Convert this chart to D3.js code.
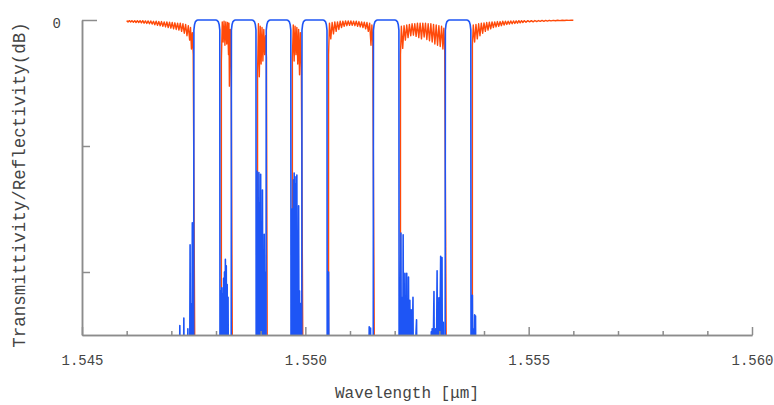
<!DOCTYPE html>
<html>
<head>
<meta charset="utf-8">
<script src="https://cdn.jsdelivr.net/npm/d3@7"></script>
<style>
  body { margin: 0; background: #fff; }
  svg text { font-family: "Liberation Mono", "DejaVu Sans Mono", monospace; fill: #444; }
  .axis .domain, .axis line { stroke: #8c8c8c; stroke-width: 1.5; }
</style>
</head>
<body>
<div id="chart"></div>
<script>
// x axis labels / y axis labels
const xTicks = [1.545, 1.550, 1.555, 1.560];
const yTicks = [0];
const yMinorTicks = [-20, -40];

// blue: flat-top passbands (left edge, right edge) in um
const passbands = [
  [1.54750, 1.54809],
  [1.54834, 1.54890],
  [1.54912, 1.54968],
  [1.54992, 1.55049],
  [1.55152, 1.55210],
  [1.55313, 1.55371]
];
// shape of a passband edge: offset into band (um), level (dB)
const edgeProfile = [[0, -60], [0.000005, -1.6], [0.00002, -0.7], [0.00004, -0.25], [0.00007, -0.05], [0.0001, 0]];

// blue: noise spikes at the bottom, between passbands
const blueNoise = [
  [1.54718,-60],[1.54719,-48.5],[1.54720,-60],[1.54727,-60],[1.54728,-47.3],[1.54729,-60],[1.54736,-60],[1.54737,-49],[1.54738,-60],
  [1.54741,-60],[1.54742,-35.7],[1.54743,-60],[1.54745,-45],[1.54746,-60],[1.54747,-32.2],[1.54748,-60],
  [1.54810,-60],[1.54811,-43],[1.54812,-60],[1.54813,-42.5],[1.54814,-60],[1.54815,-43.5],[1.54816,-60],[1.54817,-41],[1.54818,-60],
  [1.54819,-40],[1.54820,-60],[1.54821,-38],[1.54822,-60],[1.54823,-39],[1.54824,-60],[1.54825,-42],[1.54826,-60],[1.54827,-44],[1.54828,-60],
  [1.54891,-60],[1.54892,-24],[1.54893,-60],[1.54894,-36],[1.54895,-60],[1.54896,-24.2],[1.54897,-60],[1.54898,-29],[1.54899,-60],
  [1.54900,-24.5],[1.54901,-60],[1.54902,-35],[1.54903,-60],[1.54904,-27],[1.54905,-60],[1.54906,-37],[1.54907,-60],[1.54908,-34],[1.54909,-60],[1.54910,-40],[1.54911,-60],
  [1.54970,-60],[1.54971,-30],[1.54972,-60],[1.54973,-25.4],[1.54974,-60],[1.54975,-24.3],[1.54976,-60],[1.54977,-26],[1.54978,-60],
  [1.54979,-24.9],[1.54980,-60],[1.54981,-24.6],[1.54982,-60],[1.54983,-38],[1.54984,-60],[1.54985,-29.5],[1.54986,-60],[1.54987,-43],[1.54988,-60],[1.54989,-45],[1.54990,-60],
  [1.55051,-60],[1.55052,-40],[1.55053,-60],[1.55142,-60],[1.55143,-48.7],[1.55144,-60],[1.55146,-48.9],[1.55147,-60],
  [1.55212,-60],[1.55214,-33.8],[1.55215,-60],[1.55217,-44],[1.55218,-60],[1.55219,-34.1],[1.55220,-60],[1.55221,-45],[1.55222,-60],
  [1.55223,-40.2],[1.55224,-60],[1.55225,-46],[1.55226,-60],[1.55227,-40.2],[1.55228,-60],[1.55229,-45],[1.55230,-60],[1.55231,-40.8],[1.55232,-60],
  [1.55234,-44.5],[1.55235,-60],[1.55237,-46],[1.55238,-60],[1.55241,-44],[1.55242,-60],[1.55249,-47.6],[1.55250,-60],
  [1.55281,-60],[1.55282,-49.5],[1.55283,-60],[1.55284,-49],[1.55285,-60],[1.55288,-43.1],[1.55289,-60],[1.55292,-49],[1.55293,-60],
  [1.55295,-39.8],[1.55296,-60],[1.55299,-44.1],[1.55300,-60],[1.55303,-37.5],[1.55304,-60],[1.55306,-37.7],[1.55307,-60],[1.55309,-48],[1.55310,-60],
  [1.55373,-60],[1.55374,-43.7],[1.55375,-60],[1.55376,-49],[1.55377,-60],[1.55379,-46.8],[1.55380,-60],[1.55381,-47],[1.55382,-60]
];

// red: transmission ripple, region by region
const redLeft = [
  [1.54600,-0.1],[1.54603,-0.3],[1.54606,-0.1],[1.54609,-0.3],[1.54612,-0.1],[1.54615,-0.35],[1.54618,-0.1],[1.54621,-0.4],
  [1.54624,-0.1],[1.54627,-0.4],[1.54630,-0.1],[1.54633,-0.45],[1.54636,-0.1],[1.54639,-0.5],[1.54642,-0.15],[1.54645,-0.55],
  [1.54648,-0.15],[1.54651,-0.6],[1.54654,-0.15],[1.54657,-0.65],[1.54660,-0.2],[1.54663,-0.75],[1.54666,-0.2],[1.54669,-0.85],
  [1.54672,-0.25],[1.54675,-0.9],[1.54678,-0.25],[1.54681,-1.0],[1.54684,-0.3],[1.54687,-1.1],[1.54690,-0.3],[1.54693,-1.2],
  [1.54696,-0.35],[1.54699,-1.3],[1.54702,-0.4],[1.54705,-1.4],[1.54708,-0.45],[1.54711,-1.5],[1.54714,-0.5],[1.54717,-1.6],
  [1.54720,-0.5],[1.54723,-1.8],[1.54726,-0.6],[1.54729,-2.1],[1.54732,-0.7],[1.54735,-2.5],[1.54738,-0.9],[1.54741,-3.2],
  [1.54743,-1.2],[1.54745,-4.6],[1.54747,-2.0],[1.54749,-5.5],[1.54753,-60]
];
const redGap12 = [
  [1.54812,-60],[1.54812,-6.5],[1.54814,-0.3],[1.54816,-3.5],[1.54818,-0.2],[1.54820,-4.0],[1.54822,-0.3],[1.54824,-3.8],
  [1.54826,-0.4],[1.54828,-5.5],[1.54829,-0.5],[1.54830,-10.5],[1.54832,-1.5],[1.54834,-8.0],[1.54837,-60]
];
const redGap23 = [
  [1.54893,-60],[1.54893,-8.5],[1.54895,-0.6],[1.54897,-9.0],[1.54899,-1.0],[1.54901,-7.0],[1.54903,-1.2],[1.54905,-6.5],
  [1.54907,-1.5],[1.54909,-5.5],[1.54911,-2.5],[1.54913,-6.0],[1.54915,-60]
];
const redGap34 = [
  [1.54971,-60],[1.54971,-6.0],[1.54973,-0.8],[1.54975,-6.5],[1.54977,-1.0],[1.54979,-5.5],[1.54981,-1.2],[1.54983,-7.0],
  [1.54985,-1.5],[1.54987,-8.7],[1.54989,-2.0],[1.54991,-7.5],[1.54995,-60]
];
const redGap45 = [
  [1.55052,-60],[1.55052,-5.5],[1.55054,-0.5],[1.55057,-3.0],[1.55060,-0.4],[1.55063,-2.2],[1.55066,-0.3],[1.55069,-1.8],
  [1.55072,-0.3],[1.55075,-1.5],[1.55078,-0.2],[1.55081,-1.2],[1.55084,-0.2],[1.55087,-1.0],[1.55090,-0.15],[1.55093,-0.9],
  [1.55096,-0.15],[1.55099,-0.85],[1.55102,-0.15],[1.55105,-0.85],[1.55108,-0.2],[1.55111,-0.9],[1.55114,-0.2],[1.55117,-1.0],
  [1.55120,-0.25],[1.55123,-1.1],[1.55126,-0.3],[1.55129,-1.2],[1.55132,-0.35],[1.55135,-1.4],[1.55138,-0.4],[1.55141,-1.8],
  [1.55144,-0.5],[1.55147,-4.0],[1.55149,-0.8],[1.55151,-3.5],[1.55155,-60]
];
const redGap56 = [
  [1.55213,-60],[1.55213,-5.5],[1.55215,-1.0],[1.55218,-4.5],[1.55221,-0.9],[1.55224,-3.2],[1.55227,-0.8],[1.55230,-2.8],
  [1.55233,-0.7],[1.55236,-2.5],[1.55239,-0.6],[1.55242,-2.4],[1.55245,-0.6],[1.55248,-2.6],[1.55251,-0.5],[1.55254,-2.8],
  [1.55257,-0.5],[1.55260,-3.0],[1.55263,-0.5],[1.55266,-2.7],[1.55269,-0.5],[1.55272,-3.1],[1.55275,-0.6],[1.55278,-3.3],
  [1.55281,-0.6],[1.55284,-3.5],[1.55287,-0.7],[1.55290,-3.8],[1.55293,-0.8],[1.55296,-4.0],[1.55299,-0.9],[1.55302,-4.2],
  [1.55305,-1.0],[1.55308,-4.6],[1.55310,-1.3],[1.55312,-4.3],[1.55316,-60]
];
const redRight = [
  [1.55374,-60],[1.55374,-4.0],[1.55376,-0.8],[1.55379,-3.5],[1.55382,-0.7],[1.55385,-3.0],[1.55388,-0.6],[1.55391,-2.5],
  [1.55394,-0.5],[1.55397,-2.1],[1.55400,-0.45],[1.55403,-1.8],[1.55406,-0.4],[1.55409,-1.6],[1.55412,-0.35],[1.55415,-1.4],
  [1.55418,-0.3],[1.55421,-1.2],[1.55424,-0.3],[1.55427,-1.1],[1.55430,-0.25],[1.55433,-1.0],[1.55436,-0.25],[1.55439,-0.9],
  [1.55442,-0.2],[1.55445,-0.8],[1.55448,-0.2],[1.55451,-0.7],[1.55454,-0.2],[1.55457,-0.65],[1.55460,-0.15],[1.55463,-0.6],
  [1.55466,-0.15],[1.55469,-0.55],[1.55472,-0.15],[1.55475,-0.5],[1.55478,-0.1],[1.55481,-0.45],[1.55484,-0.1],[1.55487,-0.4],
  [1.55490,-0.1],[1.55494,-0.35],[1.55498,-0.1],[1.55502,-0.3],[1.55506,-0.1],[1.55510,-0.3],[1.55514,-0.08],[1.55518,-0.25],
  [1.55522,-0.08],[1.55526,-0.22],[1.55530,-0.06],[1.55534,-0.2],[1.55538,-0.06],[1.55542,-0.18],[1.55546,-0.05],[1.55550,-0.15],
  [1.55555,-0.05],[1.55560,-0.12],[1.55565,-0.04],[1.55570,-0.1],[1.55575,-0.04],[1.55580,-0.08],[1.55585,-0.03],[1.55590,-0.06],
  [1.55595,-0.02],[1.55600,-0.03]
];

const width = 774, height = 405;
const margin = {top: 20, right: 22, bottom: 70, left: 82};

const svg = d3.select("#chart").append("svg")
  .attr("width", width)
  .attr("height", height);

const x = d3.scaleLinear()
  .domain([1.545, 1.560])
  .range([margin.left, width - margin.right]);

const y = d3.scaleLinear()
  .domain([-50, 0])
  .range([height - margin.bottom, margin.top]);

svg.append("defs").append("clipPath").attr("id", "plot")
  .append("rect")
    .attr("x", margin.left)
    .attr("y", margin.top - 10)
    .attr("width", width - margin.left - margin.right)
    .attr("height", height - margin.bottom - margin.top + 10);

const lineGen = d3.line().x(d => x(d[0])).y(d => y(d[1]));

// red trace
const red = [].concat(redLeft, redGap12, redGap23, redGap34, redGap45, redGap56, redRight);
svg.append("path")
  .datum(red)
  .attr("clip-path", "url(#plot)")
  .attr("fill", "none")
  .attr("stroke", "#ff4a0a")
  .attr("stroke-width", 1.4)
  .attr("stroke-linejoin", "round")
  .attr("d", lineGen);

// blue trace: passbands + bottom noise
let blue = blueNoise.slice();
passbands.forEach(([l, r]) => {
  edgeProfile.forEach(([dx, v]) => blue.push([l + dx, v]));
  edgeProfile.forEach(([dx, v]) => blue.push([r - dx, v]));
});
blue.sort((a, b) => a[0] - b[0]);

svg.append("path")
  .datum(blue)
  .attr("clip-path", "url(#plot)")
  .attr("fill", "none")
  .attr("stroke", "#1e55f5")
  .attr("stroke-width", 1.6)
  .attr("stroke-linejoin", "round")
  .attr("d", lineGen);

// axes
const xMinor = x.ticks(15).filter(t => !xTicks.some(m => Math.abs(m - t) < 1e-9));

svg.append("g")
  .attr("class", "axis")
  .attr("transform", `translate(0,${y(-50)})`)
  .call(d3.axisBottom(x).tickValues(xMinor).tickSizeInner(-4).tickSizeOuter(0).tickFormat(""));

svg.append("g")
  .attr("class", "axis")
  .attr("transform", `translate(0,${y(-50)})`)
  .call(d3.axisBottom(x).tickValues(xTicks).tickSizeInner(-8).tickSizeOuter(0).tickPadding(20).tickFormat(d3.format(".3f")))
  .call(g => g.selectAll("text").attr("font-size", 14).attr("font-family", null));

svg.append("g")
  .attr("class", "axis")
  .attr("transform", `translate(${margin.left},0)`)
  .call(d3.axisLeft(y).tickValues(yMinorTicks).tickSizeInner(-8).tickSizeOuter(0).tickFormat(""));

svg.append("g")
  .attr("class", "axis")
  .attr("transform", `translate(${margin.left},0)`)
  .call(d3.axisLeft(y).tickValues(yTicks).tickSizeInner(-15).tickSizeOuter(0).tickPadding(21).tickFormat(d => d))
  .call(g => g.selectAll("text").attr("font-size", 14).attr("dy", "0.5em").attr("font-family", null));

svg.selectAll(".axis text").style("fill", "#444");

// axis titles
svg.append("text")
  .attr("x", 407)
  .attr("y", 398)
  .attr("text-anchor", "middle")
  .attr("font-size", 16)
  .text("Wavelength [μm]");

svg.append("text")
  .attr("transform", "translate(25,185) rotate(-90)")
  .attr("text-anchor", "middle")
  .attr("font-size", 17.5)
  .text("Transmittivity/Reflectivity(dB)");
</script>
</body>
</html>
